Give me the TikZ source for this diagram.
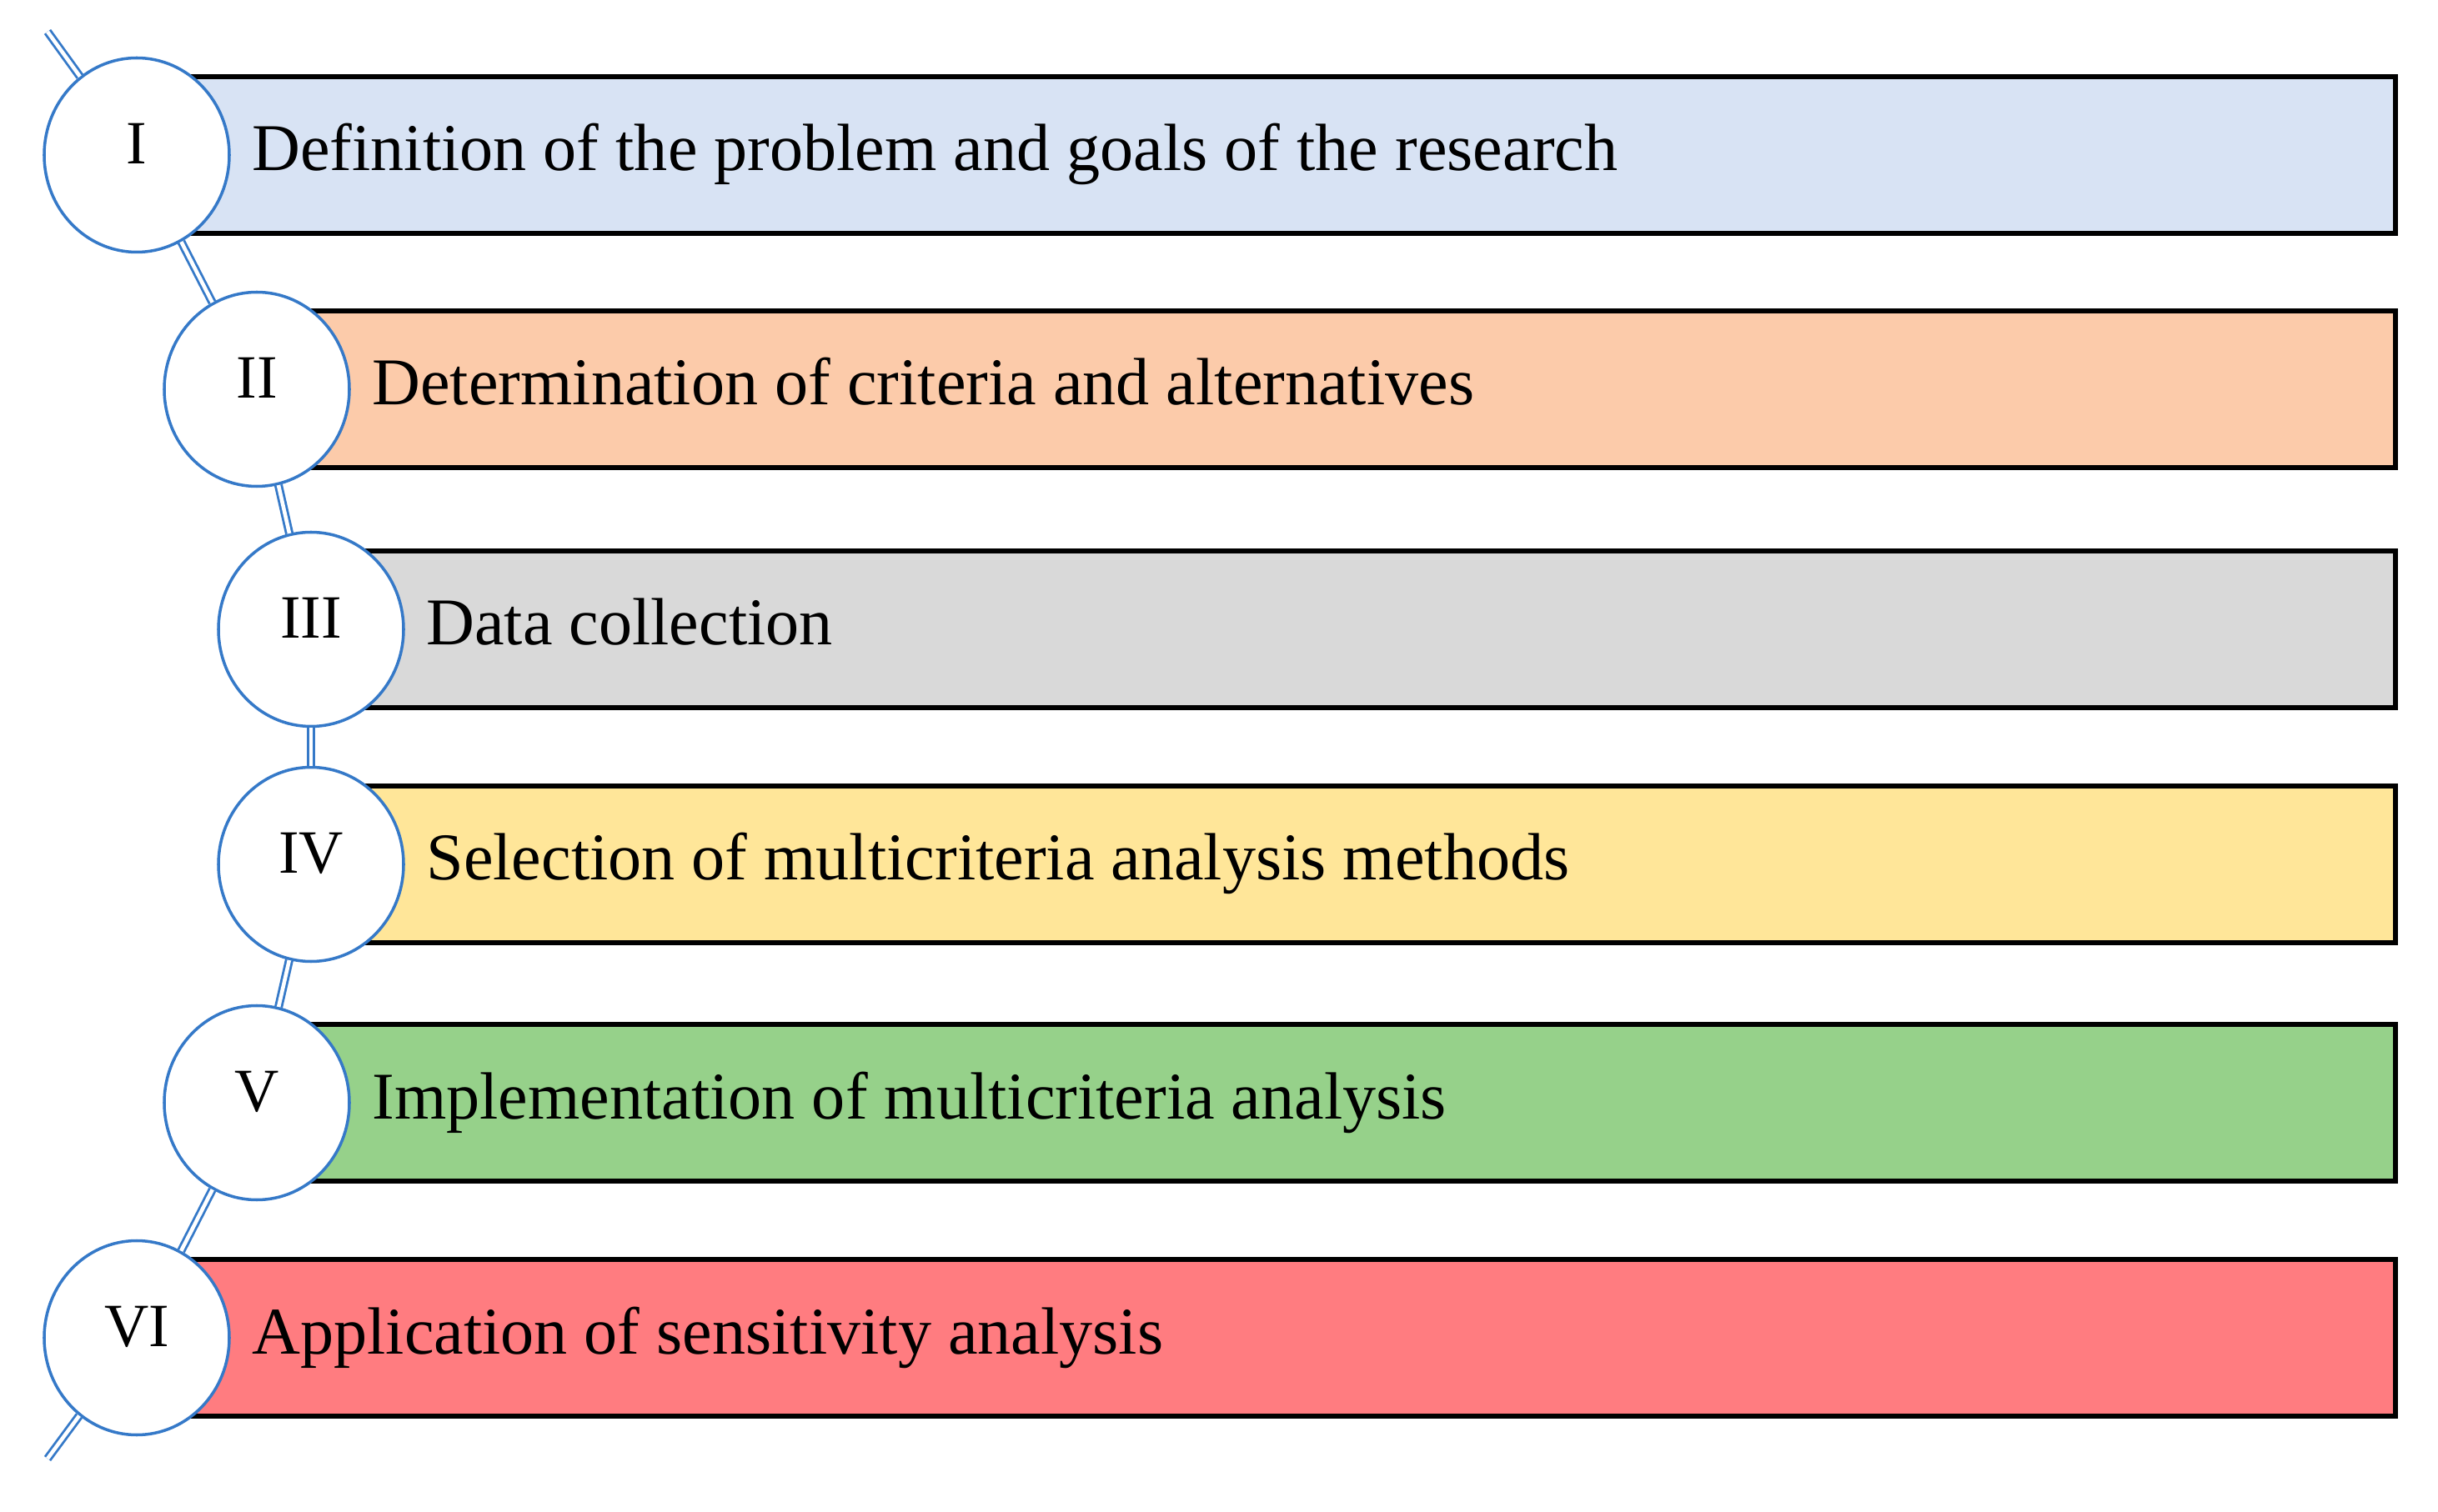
\documentclass[tikz,border=0pt]{standalone}
\usepackage{fontspec}
\setmainfont{Liberation Serif}
\usetikzlibrary{shapes.geometric,calc}
\definecolor{ringblue}{HTML}{3579C8}
\definecolor{fillone}{HTML}{D8E3F4}
\definecolor{filltwo}{HTML}{FCCBAA}
\definecolor{fillthree}{HTML}{D9D9D9}
\definecolor{fillfour}{HTML}{FFE699}
\definecolor{fillfive}{HTML}{96D18A}
\definecolor{fillsix}{HTML}{FF7C80}
\tikzset{
	stagebox/.style={draw=black, line width=1.6pt, minimum height=1.88cm, anchor=west, inner sep=0pt},
	stagering/.style={ellipse, draw=ringblue, line width=1pt, fill=white, minimum width=2.22cm, minimum height=2.33cm, inner sep=0pt, font=\fontsize{21}{24}\selectfont, text depth=0.28cm},
	stagetext/.style={anchor=base west, inner sep=0pt, font=\fontsize{22.8}{27}\selectfont},
	ringlink/.style={draw=ringblue, line width=0.8pt, double=white, double distance=1.3pt}
}
\begin{document}
\begin{tikzpicture}
			\useasboundingbox (0,0) rectangle (29.24,-18.14);
			\coordinate (top) at (0.57,-0.38);
			\coordinate (bottom) at (0.57,-17.50);
			\node [stagebox, fill=fillone, minimum width=27.06cm] (b1) at (1.64,-1.86) {};
			\node [stagering] (c1) at (1.64,-1.86) {I};
			\node [stagetext] (t1) at ($(c1.east |- b1.center)+(0.25,-0.19)$) {Definition of the problem and goals of the research};
			\node [stagebox, fill=filltwo, minimum width=25.62cm] (b2) at (3.08,-4.67) {};
			\node [stagering] (c2) at (3.08,-4.67) {II};
			\node [stagetext] (t2) at ($(c2.east |- b2.center)+(0.25,-0.19)$) {Determination of criteria and alternatives};
			\node [stagebox, fill=fillthree, minimum width=24.97cm] (b3) at (3.73,-7.55) {};
			\node [stagering] (c3) at (3.73,-7.55) {III};
			\node [stagetext] (t3) at ($(c3.east |- b3.center)+(0.25,-0.19)$) {Data collection};
			\node [stagebox, fill=fillfour, minimum width=24.97cm] (b4) at (3.73,-10.37) {};
			\node [stagering] (c4) at (3.73,-10.37) {IV};
			\node [stagetext] (t4) at ($(c4.east |- b4.center)+(0.25,-0.19)$) {Selection of multicriteria analysis methods};
			\node [stagebox, fill=fillfive, minimum width=25.62cm] (b5) at (3.08,-13.23) {};
			\node [stagering] (c5) at (3.08,-13.23) {V};
			\node [stagetext] (t5) at ($(c5.east |- b5.center)+(0.25,-0.19)$) {Implementation of multicriteria analysis};
			\node [stagebox, fill=fillsix, minimum width=27.06cm] (b6) at (1.64,-16.05) {};
			\node [stagering] (c6) at (1.64,-16.05) {VI};
			\node [stagetext] (t6) at ($(c6.east |- b6.center)+(0.25,-0.19)$) {Application of sensitivity analysis};
			\draw [ringlink] (top) -- (c1);
			\draw [ringlink] (c1) -- (c2);
			\draw [ringlink] (c2) -- (c3);
			\draw [ringlink] (c3) -- (c4);
			\draw [ringlink] (c4) -- (c5);
			\draw [ringlink] (c5) -- (c6);
			\draw [ringlink] (c6) -- (bottom);
		\end{tikzpicture}
\end{document}
